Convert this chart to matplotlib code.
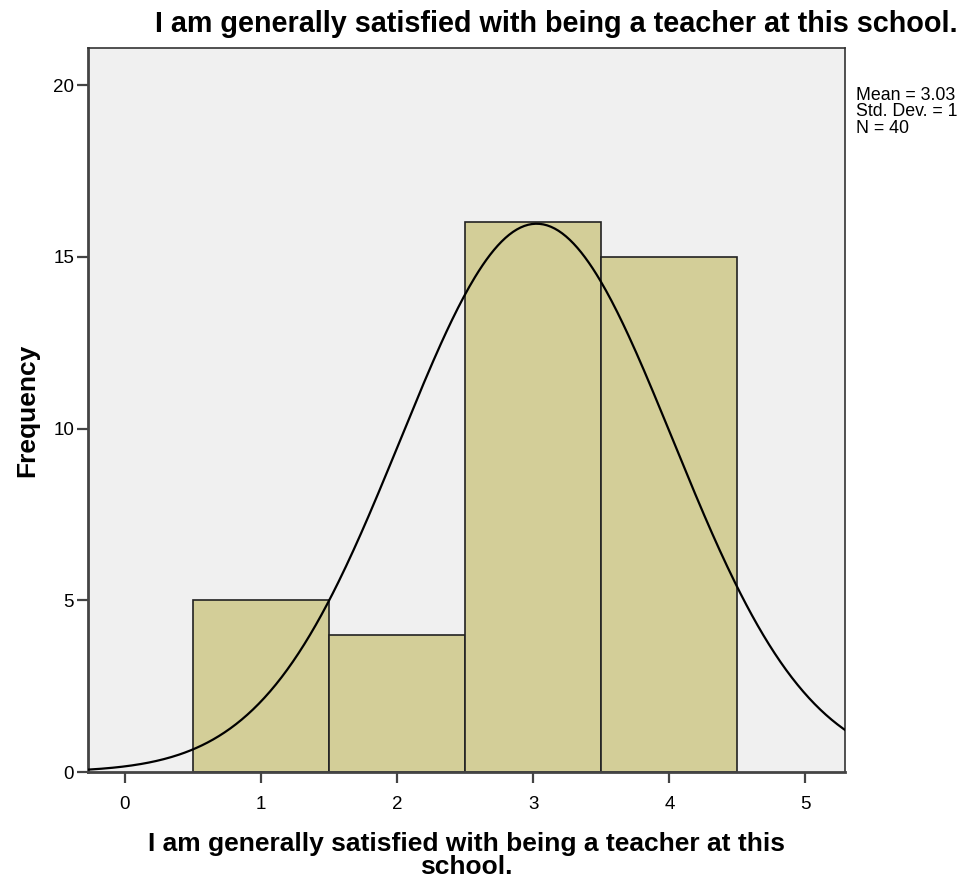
import numpy as np
import matplotlib
matplotlib.use("Agg")
import matplotlib.pyplot as plt
from decimal import Decimal, ROUND_HALF_UP

plt.rcParams['font.family'] = ['Liberation Sans', 'DejaVu Sans']

# responses on the 1-4 scale and how many teachers gave each
scores = [1, 2, 3, 4]
counts = [5, 4, 16, 15]
x_ticks = [0, 1, 2, 3, 4, 5]
y_ticks = [0, 5, 10, 15, 20]
question = "I am generally satisfied with being a teacher at this school."

vals = np.repeat(scores, counts)
n = len(vals)
mean = vals.mean()
sd = vals.std(ddof=1)

def spss_round(v, places):
    q = Decimal(1).scaleb(-places)
    return Decimal(str(v)).quantize(q, rounding=ROUND_HALF_UP).normalize()

fig = plt.figure(figsize=(9.72, 8.8), dpi=100)
ax = fig.add_axes([0.0905, 0.1227, 0.7788, 0.8228])
ax.set_facecolor('#f0f0f0')

ax.bar(scores, counts, width=1.0, color='#d3ce98', edgecolor='#222222', linewidth=1.2, zorder=2)

# fitted normal curve, scaled to counts (bin width 1)
xs = np.linspace(-0.27, 5.29, 400)
ys = n / (sd * np.sqrt(2 * np.pi)) * np.exp(-0.5 * ((xs - mean) / sd) ** 2)
ax.plot(xs, ys, color='black', linewidth=1.6, zorder=3)

ax.set_xlim(-0.27, 5.29)
ax.set_ylim(0, 21.08)
ax.set_xticks(x_ticks)
ax.set_yticks(y_ticks)
ax.tick_params(direction='out', length=8, width=1.6, color='#444444', labelsize=13.5)
ax.tick_params(axis='x', pad=9)
ax.tick_params(axis='y', pad=2)

for side in ['left', 'bottom']:
    ax.spines[side].set_color('#444444')
    ax.spines[side].set_linewidth(2)
for side in ['top', 'right']:
    ax.spines[side].set_color('#333333')
    ax.spines[side].set_linewidth(1.2)

ax.set_ylabel('Frequency', fontsize=19, fontweight='bold', labelpad=10)
ax.set_xlabel("I am generally satisfied with being a teacher at this\nschool.",
              fontsize=19, fontweight='bold', labelpad=14, linespacing=0.95)

fig.text(0.572, 0.973, question, ha='center', va='center', fontsize=20.7, fontweight='bold')

fig.text(0.881, 0.901,
         f"Mean = {spss_round(mean, 2)}\nStd. Dev. = {spss_round(sd, 2)}\nN = {n}",
         ha='left', va='top', fontsize=12.8, linespacing=0.95)

fig.savefig('out.png', dpi=100)
